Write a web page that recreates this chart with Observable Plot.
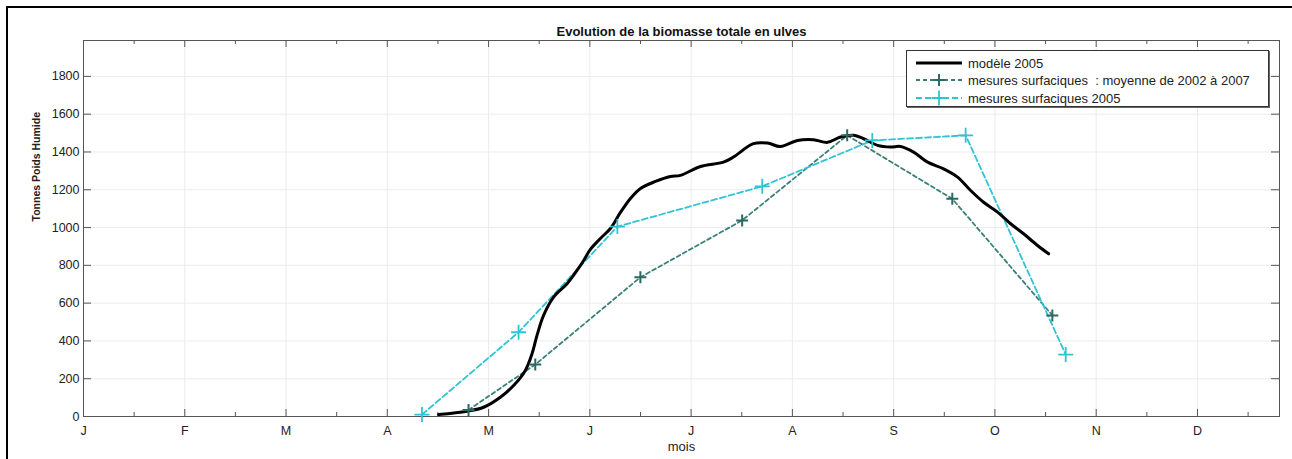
<!DOCTYPE html>
<html><head><meta charset="utf-8">
<script src="https://cdn.jsdelivr.net/npm/d3@7"></script>
<script src="https://cdn.jsdelivr.net/npm/@observablehq/plot@0.6"></script>
<style>
body{margin:0;background:#fff;}
#wrap{position:relative;width:1292px;height:459px;overflow:hidden;font-family:"Liberation Sans",Arial,sans-serif;background:#fff;}
#chart{position:absolute;left:0;top:0;}
#border{position:absolute;left:6px;top:6px;width:1320px;height:480px;border:2px solid #000;box-sizing:border-box;pointer-events:none;}
#legend{position:absolute;left:906px;top:50px;width:363px;height:57px;border:1px solid #333;background:#fff;box-shadow:1px 1px 0 #666;font-size:13px;color:#222;box-sizing:border-box;}
#legend .row{position:absolute;left:0;height:18px;display:flex;align-items:center;white-space:pre;}
#legend svg{margin-left:9px;margin-right:6px;}
</style></head><body>
<div id="wrap"><div id="chart"></div><div id="border"></div><div id="legend"></div></div>
<script>
// ---- data ----
const monthLabels = ["J","F","M","A","M","J","J","A","S","O","N","D"];
const yTicks = [0,200,400,600,800,1000,1200,1400,1600,1800];

// modèle 2005 (x in months since 1 Jan, y in tonnes)
const modelX = [3.506,3.787,3.951,4.116,4.247,4.363,4.429,4.478,4.543,4.642,4.775,4.873,4.939,5.005,5.104,5.203,5.302,5.401,5.500,5.648,5.796,5.894,6.092,6.319,6.418,6.615,6.754,6.882,7.050,7.209,7.347,7.475,7.604,7.703,7.841,7.970,8.068,8.197,8.335,8.493,8.631,8.760,8.888,9.026,9.155,9.283,9.421,9.530];
const modelY = [10,28,49,102,164,244,332,429,535,632,703,773,826,884,942,995,1080,1154,1207,1244,1270,1276,1323,1346,1373,1444,1447,1429,1461,1465,1451,1479,1488,1470,1435,1426,1429,1399,1346,1311,1267,1196,1134,1082,1020,967,905,861];

// mesures surfaciques : moyenne de 2002 à 2007
const meanX = [3.802,4.461,5.499,6.504,7.541,8.579,9.567];
const meanY = [35,275,737,1038,1488,1152,535];

// mesures surfaciques 2005
const m05X = [3.342,4.296,5.272,6.702,7.789,8.711,9.699];
const m05Y = [10,446,1005,1218,1461,1488,328];

const legendLabels = ["modèle 2005","mesures surfaciques  : moyenne de 2002 à 2007","mesures surfaciques 2005"];

// ---- styles ----
const cModel = "#000000", cMean = "#3b8078", cMeanMark = "#2a6a62", c05 = "#2ec4d4";
const W = 1292, H = 459, mL = 83, mR = 13, mT = 40, mB = 43;
const frameW = W - mL - mR, frameH = H - mT - mB;

const plusSymbol = {draw(ctx, size){ const r = Math.sqrt(size/Math.PI); ctx.moveTo(-r,0); ctx.lineTo(r,0); ctx.moveTo(0,-r); ctx.lineTo(0,r); }};

const model = modelX.map((x,i)=>({x, y: modelY[i]}));
const mean = meanX.map((x,i)=>({x, y: meanY[i]}));
const m05 = m05X.map((x,i)=>({x, y: m05Y[i]}));
const xTicks = d3.range(monthLabels.length);
const xMinor = xTicks.map(d => d + 0.5);

const axisCol = "#555";
const chart = Plot.plot({
  width: W, height: H,
  marginLeft: mL, marginRight: mR, marginTop: mT, marginBottom: mB,
  style: {fontFamily: "Liberation Sans, Arial, sans-serif", fontSize: "12.5px", color: "#222", background: "transparent", overflow: "visible"},
  x: {domain: [0, 11.81]},
  y: {domain: [0, 1990]},
  marks: [
    Plot.gridX(xTicks, {stroke: "#ececec", strokeOpacity: 1}),
    Plot.gridY(yTicks, {stroke: "#ececec", strokeOpacity: 1}),
    Plot.frame({stroke: axisCol}),
    Plot.tickX(xTicks, {x: d => d, insetTop: frameH - 7, stroke: axisCol}),
    Plot.tickX(xTicks, {x: d => d, insetBottom: frameH - 7, stroke: axisCol}),
    Plot.tickX(xMinor, {x: d => d, insetTop: frameH - 4, stroke: axisCol}),
    Plot.tickX(xMinor, {x: d => d, insetBottom: frameH - 4, stroke: axisCol}),
    Plot.tickY(yTicks, {y: d => d, insetRight: frameW - 8, stroke: axisCol}),
    Plot.tickY(yTicks, {y: d => d, insetLeft: frameW - 8, stroke: axisCol}),
    Plot.axisX(xTicks, {tickSize: 0, tickPadding: 10, tickFormat: i => monthLabels[i], label: null}),
    Plot.axisY(yTicks, {tickSize: 0, tickPadding: 4, tickFormat: d => String(d), label: null}),
    Plot.line(mean, {x: "x", y: "y", stroke: cMean, strokeWidth: 1.8, strokeDasharray: "4,3"}),
    Plot.line(m05, {x: "x", y: "y", stroke: c05, strokeWidth: 1.8, strokeDasharray: "6,3"}),
    Plot.line(model, {x: "x", y: "y", stroke: cModel, strokeWidth: 3, curve: "catmull-rom"}),
    Plot.dot(mean, {x: "x", y: "y", symbol: plusSymbol, r: 6, stroke: cMeanMark, fill: "none", strokeWidth: 2}),
    Plot.dot(m05, {x: "x", y: "y", symbol: plusSymbol, r: 7.5, stroke: c05, fill: "none", strokeWidth: 1.8}),
    Plot.text(["Evolution de la biomasse totale en ulves"], {text: d => d, frameAnchor: "top", dy: -14, fontWeight: "bold", fontSize: 13, fill: "#111"}),
    Plot.text(["mois"], {text: d => d, frameAnchor: "bottom", dy: 34, fontSize: 13, fill: "#222"}),
    Plot.text(["Tonnes Poids Humide"], {text: d => d, frameAnchor: "left", dx: -47, dy: -7, rotate: -90, fontWeight: "bold", fontSize: 10.5, fill: "#222"})
  ]
});
document.getElementById("chart").appendChild(chart);

// ---- legend ----
const legend = document.getElementById("legend");
const samples = [
  `<line x1="0" y1="7" x2="46" y2="7" stroke="${cModel}" stroke-width="3"/>`,
  `<line x1="0" y1="7" x2="46" y2="7" stroke="${cMean}" stroke-width="1.8" stroke-dasharray="4,3"/><path d="M17,7H29M23,1V13" stroke="${cMeanMark}" stroke-width="2" fill="none"/>`,
  `<line x1="0" y1="7" x2="46" y2="7" stroke="${c05}" stroke-width="1.8" stroke-dasharray="6,3"/><path d="M15.5,7H30.5M23,-0.5V14.5" stroke="${c05}" stroke-width="1.8" fill="none"/>`
];
const rowTops = [3, 20, 38];
legendLabels.forEach((lab, i) => {
  const row = document.createElement("div");
  row.className = "row";
  row.style.top = rowTops[i] + "px";
  row.innerHTML = `<svg width="46" height="14" style="overflow:visible">${samples[i]}</svg><span>${lab}</span>`;
  legend.appendChild(row);
});
</script>
</body></html>
